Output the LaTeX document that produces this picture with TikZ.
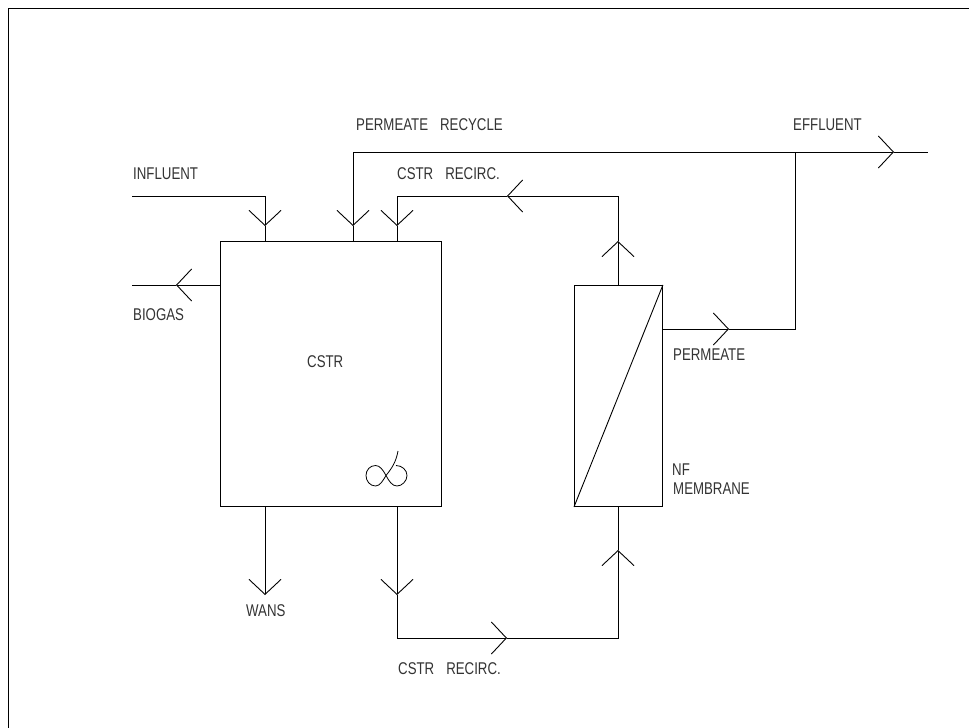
\documentclass[tikz,border=0pt]{standalone}
\usepackage{fontspec}
\setmainfont[FakeStretch=0.78]{Liberation Sans}
\usetikzlibrary{arrows.meta}
\newcommand{\labgap}{\hspace{12pt}}
\tikzset{
    pipe/.style={line width=0.9pt, line join=miter},
    vessel/.style={draw, line width=0.9pt, inner sep=0pt, anchor=north west},
    lab/.style={anchor=west, inner sep=0pt, font=\fontsize{17}{17}\selectfont, text=black!80},
}
\begin{document}
\begin{tikzpicture}[x=1pt, y=-1pt, >={Straight Barb[length=15pt, width=32pt]}]
    \useasboundingbox (0,0) rectangle (969,728);
    % sheet border
    \draw[line width=0.9pt] (8,728) -- (8,8) -- (969,8);

    % vessels
    \node[vessel, minimum width=221pt, minimum height=265pt] (cstr) at (220,241) {};
    \node[vessel, minimum width=88pt, minimum height=221pt] (nf) at (574,285) {};
    \draw[pipe] (nf.south west) -- (nf.north east);

    % free ends, junctions and bends
    \coordinate (infstart) at (132,196);
    \coordinate (infbend) at (265,196);
    \coordinate (inftip) at (265,226);
    \coordinate (infin) at (265,241);
    \coordinate (biostart) at (220,285);
    \coordinate (biotip) at (176,285);
    \coordinate (bioend) at (132,285);
    \coordinate (tee) at (795,152);
    \coordinate (prbend) at (353,152);
    \coordinate (prtip) at (353,226);
    \coordinate (prin) at (353,241);
    \coordinate (efftip) at (894,152);
    \coordinate (effend) at (928,152);
    \coordinate (permstart) at (662,329);
    \coordinate (permtip) at (729,329);
    \coordinate (permbend) at (795,329);
    \coordinate (nfout) at (618,285);
    \coordinate (uptip) at (618,241);
    \coordinate (topbend) at (618,196);
    \coordinate (lefttip) at (507,196);
    \coordinate (recbend) at (397,196);
    \coordinate (rectip) at (397,226);
    \coordinate (recin) at (397,241);
    \coordinate (wansstart) at (265,506);
    \coordinate (wanstip) at (265,595);
    \coordinate (recstart) at (397,506);
    \coordinate (downtip) at (397,595);
    \coordinate (botleft) at (397,638);
    \coordinate (righttip) at (507,638);
    \coordinate (botright) at (618,638);
    \coordinate (nfuptip) at (618,550);
    \coordinate (nfin) at (618,506);

    % streams
    \draw[pipe, ->] (infstart) -- (infbend) -- (inftip);
    \draw[pipe] (inftip) -- (infin);
    \draw[pipe, ->] (biostart) -- (biotip);
    \draw[pipe] (biotip) -- (bioend);
    \draw[pipe, ->] (tee) -- (prbend) -- (prtip);
    \draw[pipe] (prtip) -- (prin);
    \draw[pipe, ->] (tee) -- (efftip);
    \draw[pipe] (efftip) -- (effend);
    \draw[pipe, ->] (permstart) -- (permtip);
    \draw[pipe] (permtip) -- (permbend) -- (tee);
    \draw[pipe, ->] (nfout) -- (uptip);
    \draw[pipe, ->] (uptip) -- (topbend) -- (lefttip);
    \draw[pipe, ->] (lefttip) -- (recbend) -- (rectip);
    \draw[pipe] (rectip) -- (recin);
    \draw[pipe, ->] (wansstart) -- (wanstip);
    \draw[pipe, ->] (recstart) -- (downtip);
    \draw[pipe, ->] (downtip) -- (botleft) -- (righttip);
    \draw[pipe, ->] (righttip) -- (botright) -- (nfuptip);
    \draw[pipe] (nfuptip) -- (nfin);

    % mixer
    \draw[line width=0.8pt] (396,465.5) .. controls (402,465.5) and (407,470) .. (407,475.5)
        .. controls (407,481) and (402,486) .. (397,486)
        .. controls (392,486) and (389,481) .. (386,475.5)
        .. controls (383,470) and (380,465.5) .. (375.5,465.5)
        .. controls (370,465.5) and (366,470) .. (366,475.5)
        .. controls (366,481) and (370,486) .. (375.5,486)
        .. controls (380,486) and (383,480.5) .. (386,475.5)
        .. controls (392,468) and (396,462) .. (398,451);

    % labels
    \node[lab] (inflab) at (133,174) {INFLUENT};
    \node[lab] (biolab) at (133,315) {BIOGAS};
    \node[lab] (prlab) at (356,125) {PERMEATE\labgap RECYCLE};
    \node[lab] (efflab) at (793,125) {EFFLUENT};
    \node[lab] (rectoplab) at (397,174) {CSTR\labgap RECIRC.};
    \node[lab] (cstrlab) at (307,362) {CSTR};
    \node[lab] (permlab) at (673,355) {PERMEATE};
    \node[lab] (nflab) at (672,470) {NF};
    \node[lab] (memlab) at (673,489) {MEMBRANE};
    \node[lab] (wanslab) at (246,611) {WANS};
    \node[lab] (recbotlab) at (398,669) {CSTR\labgap RECIRC.};
\end{tikzpicture}
\end{document}
